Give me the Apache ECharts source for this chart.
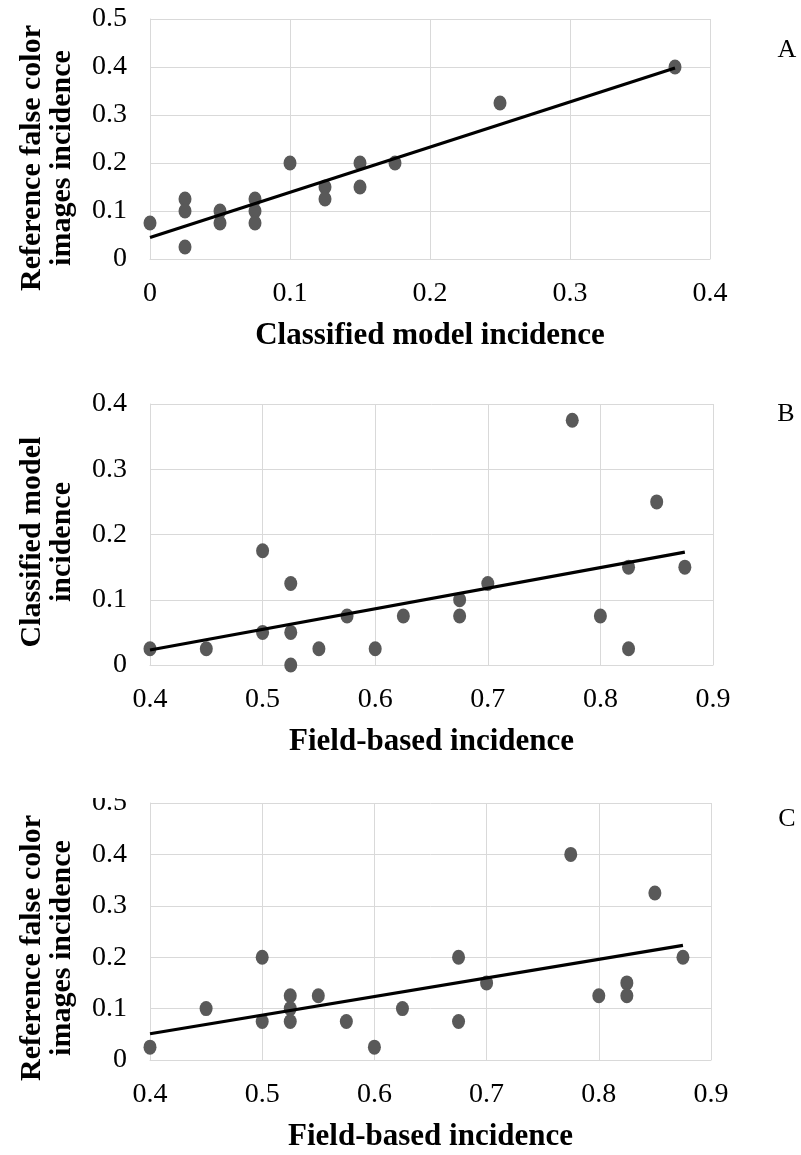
<!DOCTYPE html>
<html><head><meta charset="utf-8">
<script src="https://cdn.jsdelivr.net/npm/echarts@6/dist/echarts.min.js"></script>
<style>html,body{margin:0;padding:0;background:#fff}#c{width:801px;height:1155px}</style>
</head><body><div id="c"></div>
<script>
// Panel A: classified model incidence (x) vs reference false color images incidence (y)
const classifiedA = [0,0.025,0.025,0.025,0.05,0.05,0.075,0.075,0.075,0.1,0.125,0.125,0.15,0.15,0.175,0.25,0.375];
const referenceA  = [0.075,0.125,0.1,0.025,0.1,0.075,0.125,0.1,0.075,0.2,0.15,0.125,0.2,0.15,0.2,0.325,0.4];
const trendAX = [0, 0.375];
const trendAY = [0.045, 0.398];
// Panel B: field-based incidence (x) vs classified model incidence (y)
const fieldB      = [0.4,0.45,0.5,0.5,0.525,0.525,0.525,0.55,0.575,0.6,0.625,0.675,0.675,0.7,0.775,0.8,0.825,0.825,0.85,0.875];
const classifiedB = [0.025,0.025,0.175,0.05,0.125,0.05,0,0.025,0.075,0.025,0.075,0.1,0.075,0.125,0.375,0.075,0.15,0.025,0.25,0.15];
const trendBX = [0.4, 0.875];
const trendBY = [0.023, 0.173];
// Panel C: field-based incidence (x) vs reference false color images incidence (y)
const fieldC      = [0.4,0.45,0.5,0.5,0.525,0.525,0.525,0.55,0.575,0.6,0.625,0.675,0.675,0.7,0.775,0.8,0.825,0.825,0.85,0.875];
const referenceC  = [0.025,0.1,0.2,0.075,0.125,0.1,0.075,0.125,0.075,0.025,0.1,0.2,0.075,0.15,0.4,0.125,0.15,0.125,0.325,0.2];
const trendCX = [0.4, 0.875];
const trendCY = [0.051, 0.223];

const xTitles = ['Classified model incidence','Field-based incidence','Field-based incidence'];
const yTitles = ['Reference false color\nimages incidence','Classified model\nincidence','Reference false color\nimages incidence'];
const panelLetters = ['A','B','C'];

const FONT = '"Liberation Serif", "Times New Roman", serif';
const GRID = '#d9d9d9';
const DOT = '#595959';
const zip = (a,b) => a.map((v,i)=>[v,b[i]]);
const fmt = v => (Math.abs(v) < 1e-9 ? '0' : (+v).toFixed(1));

const grids = [
  {left:150, right:91, top:19, height:240},
  {left:150, right:88, top:404, height:261},
  {left:150, right:90, top:803, height:257}
];
const xRanges = [[0,0.4],[0.4,0.9],[0.4,0.9]];
const yRanges = [[0,0.5],[0,0.4],[0,0.5]];

function xAxis(i){
  return {gridIndex:i, type:'value', min:xRanges[i][0], max:xRanges[i][1], interval:0.1,
    axisLine:{show:true, lineStyle:{color:GRID, width:1}}, axisTick:{show:false},
    splitLine:{show:true, lineStyle:{color:GRID, width:1}},
    axisLabel:{fontFamily:FONT, fontSize:28, color:'#000', margin:21, formatter:fmt},
    name:xTitles[i], nameLocation:'middle', nameGap:61,
    nameTextStyle:{fontFamily:FONT, fontSize:31, fontWeight:'bold', color:'#000'}};
}
function yAxis(i){
  return {gridIndex:i, type:'value', min:yRanges[i][0], max:yRanges[i][1], interval:0.1,
    axisLine:{show:true, lineStyle:{color:GRID, width:1}}, axisTick:{show:false},
    splitLine:{show:true, lineStyle:{color:GRID, width:1}},
    axisLabel:{fontFamily:FONT, fontSize:28, color:'#000', margin:23, formatter:fmt}};
}
const scatters = [zip(classifiedA,referenceA), zip(fieldB,classifiedB), zip(fieldC,referenceC)];
const trends = [zip(trendAX,trendAY), zip(trendBX,trendBY), zip(trendCX,trendCY)];
const series = [];
for (let i=0;i<3;i++){
  series.push({type:'line', xAxisIndex:i, yAxisIndex:i, data:trends[i], symbol:'none',
    lineStyle:{color:'#000', width:3.2}, z:3, silent:true, animation:false});
  series.push({type:'scatter', xAxisIndex:i, yAxisIndex:i, data:scatters[i], symbol:'circle',
    symbolSize:[13,15], itemStyle:{color:DOT, opacity:1}, z:2, animation:false});
}
const yTitleCenters = [[47,158],[47,542],[47,948]];
const letterPos = [[787,50],[786,414],[787,819]];
const graphic = [];
for (let i=0;i<3;i++){
  graphic.push({type:'text', x:yTitleCenters[i][0], y:yTitleCenters[i][1], rotation:Math.PI/2,
    style:{text:yTitles[i], x:0, y:0, align:'center', verticalAlign:'middle',
      font:'bold 30px ' + FONT, fill:'#000', lineHeight:30}});
  graphic.push({type:'text', x:letterPos[i][0], y:letterPos[i][1],
    style:{text:panelLetters[i], x:0, y:0, align:'center', verticalAlign:'middle',
      font:'26px ' + FONT, fill:'#000'}});
}
// clip band above panel C (its top tick label is cut in the source figure)
graphic.push({type:'rect', shape:{x:80, y:770, width:66, height:28}, style:{fill:'#fff'}, z:100});

const chart = echarts.init(document.getElementById('c'), null, {renderer:'canvas'});
chart.setOption({
  animation:false, backgroundColor:'#fff',
  grid:grids,
  xAxis:[xAxis(0),xAxis(1),xAxis(2)],
  yAxis:[yAxis(0),yAxis(1),yAxis(2)],
  series:series,
  graphic:graphic
});
</script></body></html>
